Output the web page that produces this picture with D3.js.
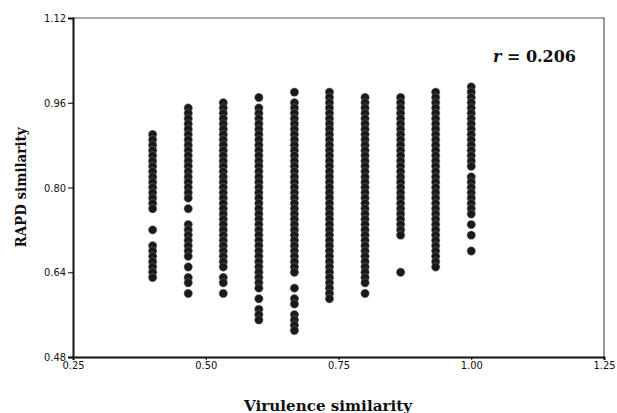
<!DOCTYPE html>
<html>
<head>
<meta charset="utf-8">
<script src="https://cdn.jsdelivr.net/npm/d3@7"></script>
<style>
  body { margin: 0; background: #fff; }
  .tick text { font-family: "DejaVu Sans Condensed", "DejaVu Sans", sans-serif; font-size: 11px; fill: #111; }
</style>
</head>
<body>
<div id="chart"></div>
<script>
// virulence similarity for each column (k/15)
const virulence = [0.400, 0.467, 0.533, 0.600, 0.667, 0.733, 0.800, 0.867, 0.933, 1.000];

// RAPD similarity values
const rapd040 = [0.90, 0.89, 0.88, 0.87, 0.86, 0.85, 0.84, 0.83, 0.82, 0.81, 0.80, 0.79, 0.78, 0.77, 0.76,
  0.72, 0.69, 0.68, 0.67, 0.66, 0.65, 0.64, 0.63];
const rapd047 = [0.95, 0.94, 0.93, 0.92, 0.91, 0.90, 0.89, 0.88, 0.87, 0.86, 0.85, 0.84, 0.83, 0.82, 0.81, 0.80, 0.79, 0.78,
  0.76, 0.73, 0.72, 0.71, 0.70, 0.69, 0.68, 0.67, 0.65, 0.63, 0.62, 0.60];
const rapd053 = [0.96, 0.95, 0.94, 0.93, 0.92, 0.91, 0.90, 0.89, 0.88, 0.87, 0.86, 0.85, 0.84, 0.83, 0.82, 0.81,
  0.80, 0.79, 0.78, 0.77, 0.76, 0.75, 0.74, 0.73, 0.72, 0.71, 0.70, 0.69, 0.68, 0.67, 0.66, 0.65,
  0.63, 0.62, 0.60];
const rapd060 = [0.97, 0.95, 0.94, 0.93, 0.92, 0.91, 0.90, 0.89, 0.88, 0.87, 0.86, 0.85, 0.84, 0.83, 0.82, 0.81,
  0.80, 0.79, 0.78, 0.77, 0.76, 0.75, 0.74, 0.73, 0.72, 0.71, 0.70, 0.69, 0.68, 0.67, 0.66, 0.65, 0.64,
  0.63, 0.62, 0.61, 0.59, 0.57, 0.56, 0.55];
const rapd067 = [0.98, 0.96, 0.95, 0.94, 0.93, 0.92, 0.91, 0.90, 0.89, 0.88, 0.87, 0.86, 0.85, 0.84, 0.83, 0.82,
  0.81, 0.80, 0.79, 0.78, 0.77, 0.76, 0.75, 0.74, 0.73, 0.72, 0.71, 0.70, 0.69, 0.68, 0.67, 0.66, 0.65,
  0.64, 0.61, 0.59, 0.58, 0.56, 0.55, 0.54, 0.53];
const rapd073 = [0.98, 0.97, 0.96, 0.95, 0.94, 0.93, 0.92, 0.91, 0.90, 0.89, 0.88, 0.87, 0.86, 0.85, 0.84, 0.83,
  0.82, 0.81, 0.80, 0.79, 0.78, 0.77, 0.76, 0.75, 0.74, 0.73, 0.72, 0.71, 0.70, 0.69, 0.68, 0.67, 0.66,
  0.65, 0.64, 0.63, 0.62, 0.61, 0.60, 0.59];
const rapd080 = [0.97, 0.96, 0.95, 0.94, 0.93, 0.92, 0.91, 0.90, 0.89, 0.88, 0.87, 0.86, 0.85, 0.84, 0.83, 0.82,
  0.81, 0.80, 0.79, 0.78, 0.77, 0.76, 0.75, 0.74, 0.73, 0.72, 0.71, 0.70, 0.69, 0.68, 0.67, 0.66, 0.65,
  0.64, 0.63, 0.62, 0.60];
const rapd087 = [0.97, 0.96, 0.95, 0.94, 0.93, 0.92, 0.91, 0.90, 0.89, 0.88, 0.87, 0.86, 0.85, 0.84, 0.83, 0.82,
  0.81, 0.80, 0.79, 0.78, 0.77, 0.76, 0.75, 0.74, 0.73, 0.72, 0.71, 0.64];
const rapd093 = [0.98, 0.97, 0.96, 0.95, 0.94, 0.93, 0.92, 0.91, 0.90, 0.89, 0.88, 0.87, 0.86, 0.85, 0.84, 0.83,
  0.82, 0.81, 0.80, 0.79, 0.78, 0.77, 0.76, 0.75, 0.74, 0.73, 0.72, 0.71, 0.70, 0.69, 0.68, 0.67, 0.66, 0.65];
const rapd100 = [0.99, 0.98, 0.97, 0.96, 0.95, 0.94, 0.93, 0.92, 0.91, 0.90, 0.89, 0.88, 0.87, 0.86, 0.85, 0.84,
  0.82, 0.81, 0.80, 0.79, 0.78, 0.77, 0.76, 0.75, 0.73, 0.71, 0.68];

const columns = [rapd040, rapd047, rapd053, rapd060, rapd067, rapd073, rapd080, rapd087, rapd093, rapd100];

const xTicks = [0.25, 0.50, 0.75, 1.00, 1.25];
const yTicks = [0.48, 0.64, 0.80, 0.96, 1.12];
const rLabel = "0.206";

const width = 617, height = 413;
const margin = { top: 18, right: 13, bottom: 56, left: 73 };

const svg = d3.select("#chart")
    .append("svg")
    .attr("width", width)
    .attr("height", height);

const x = d3.scaleLinear().domain([0.25, 1.25]).range([margin.left, width - margin.right]);
const y = d3.scaleLinear().domain([0.48, 1.12]).range([height - margin.bottom, margin.top]);

// thin frame on top and right
svg.append("path")
    .attr("d", `M${x(0.25)},${y(1.12)}H${x(1.25)}V${y(0.48)}`)
    .attr("fill", "none")
    .attr("stroke", "#555")
    .attr("stroke-width", 1.2);

const points = columns.flatMap((col, i) => col.map(v => ({ vir: virulence[i], rapd: v })));

svg.append("g")
    .selectAll("circle")
    .data(points)
    .enter()
    .append("circle")
    .attr("cx", d => x(d.vir))
    .attr("cy", d => y(d.rapd))
    .attr("r", 4.2)
    .attr("fill", "#1a1a1a")
    .attr("stroke", "#777")
    .attr("stroke-width", 0.5);

const xAxis = svg.append("g")
    .attr("transform", `translate(0,${y(0.48)})`)
    .call(d3.axisBottom(x).tickValues(xTicks).tickFormat(d3.format(".2f")).tickSize(3).tickPadding(1));
xAxis.select(".domain").attr("stroke", "#111").attr("stroke-width", 2);

const yAxis = svg.append("g")
    .attr("transform", `translate(${x(0.25)},0)`)
    .call(d3.axisLeft(y).tickValues(yTicks).tickFormat(d3.format(".2f")).tickSize(5).tickPadding(2));
yAxis.select(".domain").attr("stroke", "#111").attr("stroke-width", 2);

// axis titles
svg.append("text")
    .attr("x", 328)
    .attr("y", 411)
    .attr("text-anchor", "middle")
    .attr("font-family", "'DejaVu Serif', serif")
    .attr("font-weight", "bold")
    .attr("font-size", 14)
    .attr("textLength", 168)
    .attr("lengthAdjust", "spacingAndGlyphs")
    .attr("fill", "#111")
    .text("Virulence similarity");

svg.append("text")
    .attr("transform", `translate(26,${(y(0.48) + y(1.12)) / 2}) rotate(-90)`)
    .attr("text-anchor", "middle")
    .attr("font-family", "'DejaVu Serif', serif")
    .attr("font-weight", "bold")
    .attr("font-size", 14)
    .attr("textLength", 120)
    .attr("lengthAdjust", "spacingAndGlyphs")
    .attr("fill", "#111")
    .text("RAPD similarity");

const rText = svg.append("text")
    .attr("x", 576)
    .attr("y", 62)
    .attr("text-anchor", "end")
    .attr("font-family", "'DejaVu Serif', serif")
    .attr("font-weight", "bold")
    .attr("font-size", 16)
    .attr("fill", "#111");
rText.append("tspan").attr("font-style", "italic").text("r");
rText.append("tspan").text(" = " + rLabel);
</script>
</body>
</html>
